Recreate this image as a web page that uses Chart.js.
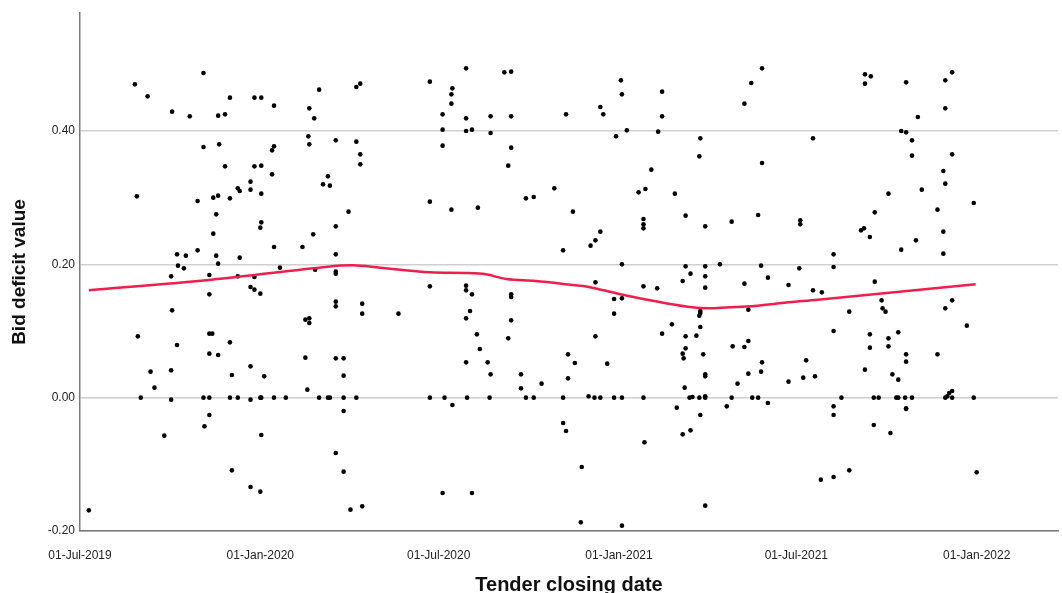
<!DOCTYPE html>
<html>
<head>
<meta charset="utf-8">
<script src="https://cdn.jsdelivr.net/npm/chart.js@4.4.0/dist/chart.umd.min.js"></script>
<style>
  html, body { margin: 0; padding: 0; background: #fff; }
  #chart { display: block; }
</style>
</head>
<body>
<canvas id="chart" width="1062" height="593"></canvas>
<script>
// ******************************************************** DATA
// x = days after 01-Jul-2019 (tender closing date), y = bid deficit value
var closingDay = [
  56,69,126,94,112,141,148,153,178,185,198,244,234,239,126,142,148,178,185,198,196,196,174,233,234,253,248,
  282,286,261,282,286,286,255,357,380,379,379,394,370,370,370,394,394,400,419,419,433,440,440,440,437,496,484,
  531,534,552,553,547,558,594,594,590,633,632,583,577,678,685,696,696,748,
  801,807,801,843,883,890,883,855,838,843,849,849,890,881,883,859,
  58,120,136,141,153,161,163,174,185,139,136,185,184,238,198,227,99,108,120,139,163,100,106,141,204,240,93,132,161,178,174,178,184,132,94,59,99,132,135,153,132,141,230,234,234,230,
  274,261,261,261,261,261,261,288,288,261,269,357,379,406,357,325,394,394,400,398,394,405,408,394,416,440,440,440,437,455,463,493,503,498,
  570,607,618,575,575,575,531,526,521,638,665,692,735,735,553,618,638,653,695,734,623,638,615,702,526,575,589,638,678,723,748,545,553,545,633,633,632,682,604,633,594,618,629,526,666,678,682,618,615,616,636,505,538,696,741,
  825,811,875,912,797,800,806,881,853,838,881,769,769,811,757,818,819,822,785,890,883,905,769,806,835,825,806,825,843,843,875,
  72,93,76,62,93,126,132,155,174,188,153,161,174,184,185,198,210,232,244,253,132,127,86,185,155,174,184,9,
  269,255,269,282,269,261,269,276,288,357,372,380,419,395,418,370,400,450,450,455,463,471,493,498,493,496,
  519,525,531,545,553,575,576,512,511,553,638,638,617,622,625,632,638,638,609,633,615,623,638,671,682,695,665,660,686,692,702,723,738,750,
  801,829,835,777,810,815,833,835,842,849,843,769,769,810,827,883,885,887,890,890,912,756,769,785,915,843
];
var bidDeficit = [
  .470,.452,.487,.429,.422,.423,.425,.450,.450,.450,.438,.462,.434,.419,.376,.380,.347,.347,.348,.377,.371,.335,.324,.392,.380,.332,.320,
  .466,.471,.386,.384,.365,.350,.318,.474,.464,.455,.441,.494,.425,.402,.378,.419,.400,.402,.422,.397,.488,.489,.422,.375,.348,.425,.314,
  .436,.425,.476,.455,.392,.401,.459,.422,.399,.389,.362,.342,.313,.441,.472,.494,.352,.389,
  .485,.482,.471,.473,.476,.488,.434,.421,.400,.398,.386,.363,.365,.340,.321,.312,
  .302,.295,.300,.303,.299,.314,.310,.312,.306,.275,.246,.263,.255,.245,.226,.226,.215,.213,.221,.213,.210,.198,.194,.201,.195,.192,.182,.184,.182,.181,.166,.162,.156,.155,.131,.092,.079,.096,.096,.083,.066,.064,.117,.119,.112,.060,
  .279,.257,.215,.189,.186,.144,.137,.141,.126,.059,.059,.294,.282,.285,.167,.126,.168,.161,.155,.130,.119,.095,.073,.053,.053,.155,.151,.116,.089,.299,.301,.221,.279,.065,
  .308,.306,.273,.268,.260,.254,.249,.236,.228,.257,.264,.274,.266,.260,.200,.197,.197,.200,.198,.194,.186,.182,.175,.180,.173,.167,.164,.165,.171,.169,.161,.148,.149,.126,.130,.127,.123,.132,.110,.106,.096,.092,.093,.092,.077,.076,.085,.074,.066,.059,.065,.052,.051,.053,.056,
  .306,.278,.282,.292,.251,.254,.241,.249,.236,.222,.216,.215,.196,.174,.158,.146,.134,.129,.129,.146,.134,.108,.100,.095,.098,.089,.075,.077,.065,.054,.065,
  .039,.041,.015,0,-.003,0,0,.034,.047,.032,0,0,-.003,0,0,0,0,.012,0,0,-.026,-.043,-.057,-.056,-.109,-.134,-.141,-.169,
  .033,0,0,0,-.020,-.083,-.111,-.168,-.163,0,0,-.011,.035,0,0,-.143,-.143,.035,.014,0,0,.021,0,.029,-.038,-.050,
  .002,0,0,0,0,0,-.067,-.104,-.187,-.192,.035,.032,.015,0,.001,0,.002,0,-.015,-.026,-.055,-.049,-.162,.021,.036,.039,0,-.013,0,0,-.008,.024,.030,.032,
  .042,.035,.027,0,0,0,0,0,0,0,-.016,-.013,-.026,-.041,-.053,0,.002,.007,.010,0,0,-.123,-.119,-.109,-.112,-.017
];

// fit line (loess)
var fitDay   = [9, 134, 253, 279, 306, 357, 394, 414, 435, 465, 503, 518, 549, 586, 620, 643, 668, 688, 719, 753, 914];
var fitValue = [.161, .177, .1965, .1985, .195, .188, .187, .185, .178, .175, .169, .1665, .156, .145, .1365, .134, .136, .1375, .1425, .147, .170];

var xTickDays   = [0, 184, 366, 550, 731, 915];
var xTickLabels = ['01-Jul-2019', '01-Jan-2020', '01-Jul-2020', '01-Jan-2021', '01-Jul-2021', '01-Jan-2022'];
var yTickValues = [-0.2, 0, 0.2, 0.4];

// ******************************************************** CHART
var points = closingDay.map(function (d, i) { return { x: d, y: bidDeficit[i] }; });
var fit = fitDay.map(function (d, i) { return { x: d, y: fitValue[i] }; });

var config = {
    type: 'scatter',
    data: {
        datasets: [{
            label: 'Fit',
            data: fit,
            showLine: true,
            borderColor: '#ef1f4d',
            borderWidth: 2.5,
            pointRadius: 0,
            tension: 0.35,
            order: 0
        }, {
            label: 'Bid deficit value',
            data: points,
            backgroundColor: '#000',
            borderColor: '#000',
            pointRadius: 2.3,
            pointBorderWidth: 0,
            order: 1
        }]
    },
    options: {
        responsive: false,
        animation: false,
        layout: { padding: { top: 13, right: 4, left: 0, bottom: 0 } },
        plugins: {
            legend: { display: false },
            tooltip: { enabled: false }
        },
        scales: {
            x: {
                type: 'linear',
                min: 0,
                max: 998,
                afterBuildTicks: function (s) { s.ticks = xTickDays.map(function (v) { return { value: v }; }); },
                afterFit: function (s) { s.height = 62; },
                grid: { display: false },
                border: { display: true, color: '#7a7a7a', width: 1.5 },
                ticks: {
                    autoSkip: false,
                    maxRotation: 0,
                    padding: 9,
                    color: '#222',
                    font: { family: 'Liberation Sans, Arial, sans-serif', size: 12 },
                    callback: function (v) {
                        var i = xTickDays.indexOf(v);
                        return i < 0 ? '' : xTickLabels[i];
                    }
                },
                title: {
                    display: true,
                    text: 'Tender closing date',
                    color: '#111',
                    font: { family: 'Liberation Sans, Arial, sans-serif', size: 20, weight: 'bold', lineHeight: 1 },
                    padding: { top: 0, bottom: -2 }
                }
            },
            y: {
                min: -0.2,
                max: 0.577,
                afterBuildTicks: function (s) { s.ticks = yTickValues.map(function (v) { return { value: v }; }); },
                afterFit: function (s) { s.width = 80; },
                grid: { color: '#cfcfcf', lineWidth: 1.5, drawTicks: false },
                border: { display: true, color: '#7a7a7a', width: 1.5 },
                ticks: {
                    padding: 5,
                    color: '#222',
                    font: { family: 'Liberation Sans, Arial, sans-serif', size: 12 },
                    callback: function (v) { return Number(v).toFixed(2); }
                },
                title: {
                    display: true,
                    text: 'Bid deficit value',
                    color: '#111',
                    font: { family: 'Liberation Sans, Arial, sans-serif', size: 19, weight: 'bold', lineHeight: 1.2 },
                    padding: { top: 8.5, bottom: 0 }
                }
            }
        }
    }
};

var _ctxc = document.getElementById('chart').getContext('2d');
window.myScatter = new Chart(_ctxc, config);
</script>
</body>
</html>
